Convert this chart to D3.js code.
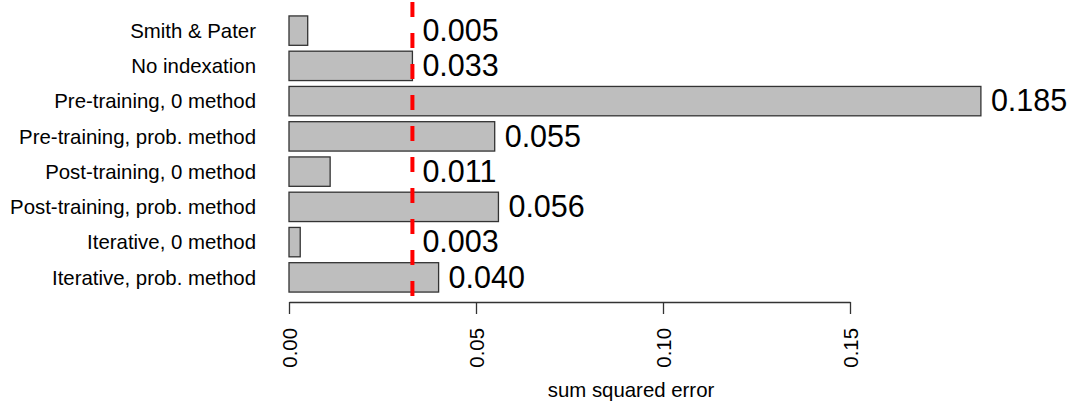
<!DOCTYPE html>
<html>
<head>
<meta charset="utf-8">
<script src="https://cdn.jsdelivr.net/npm/d3@7"></script>
<style>
  body { margin: 0; background: #fff; }
  svg text { font-family: "Liberation Sans", Arial, sans-serif; fill: #000; }
</style>
</head>
<body>
<div id="chart"></div>
<script>
// data, top to bottom as drawn
var methods = ["Smith & Pater", "No indexation", "Pre-training, 0 method", "Pre-training, prob. method",
               "Post-training, 0 method", "Post-training, prob. method", "Iterative, 0 method", "Iterative, prob. method"];
var sse = [0.005, 0.033, 0.185, 0.055, 0.011, 0.056, 0.003, 0.040];
var refLine = 0.033;
var xTicks = [0, 0.05, 0.10, 0.15];
var xTitle = "sum squared error";

var width = 1072, height = 402;

var svg = d3.select("#chart").append("svg")
    .attr("width", width)
    .attr("height", height);

var x = d3.scaleLinear().domain([0, 0.15]).range([289, 850]);
// barplot-like spacing: bar width 1, space 0.2
var y = d3.scaleBand().domain(methods).range([13, 295]).paddingInner(1 - 1 / 1.2).paddingOuter((1 - 1 / 1.2) / 2);

var data = methods.map(function(m, i) { return { name: m, value: sse[i] }; });

// bars
svg.append("g").selectAll("rect")
    .data(data)
    .enter()
    .append("rect")
        .attr("x", x(0))
        .attr("y", function(d) { return y(d.name); })
        .attr("width", function(d) { return x(d.value) - x(0); })
        .attr("height", y.bandwidth())
        .attr("fill", "#bebebe")
        .attr("stroke", "#333")
        .attr("stroke-width", 1.3);

// category labels
svg.append("g").selectAll("text")
    .data(data)
    .enter()
    .append("text")
        .attr("x", 256)
        .attr("y", function(d) { return y(d.name) + y.bandwidth() / 2; })
        .attr("dy", "0.36em")
        .attr("text-anchor", "end")
        .style("font-size", "20.4px")
        .text(function(d) { return d.name; });

// value labels, kept right of the reference line
svg.append("g").selectAll("text")
    .data(data)
    .enter()
    .append("text")
        .attr("x", function(d) { return x(Math.max(d.value, refLine)) + 10; })
        .attr("y", function(d) { return y(d.name) + y.bandwidth() / 2; })
        .attr("dy", "0.34em")
        .style("font-size", "30.5px")
        .text(function(d) { return d3.format(".3f")(d.value); });

// reference line
svg.append("line")
    .attr("x1", x(refLine)).attr("x2", x(refLine))
    .attr("y1", 2).attr("y2", 303)
    .attr("stroke", "#ff0000")
    .attr("stroke-width", 4)
    .attr("stroke-dasharray", "15,16");

// x axis
var axisY = 302;
var ax = svg.append("g")
    .attr("transform", "translate(0," + axisY + ")")
    .call(d3.axisBottom(x).tickValues(xTicks).tickSize(12).tickSizeOuter(0).tickFormat(d3.format(".2f")));
ax.select(".domain").attr("stroke", "#333").attr("stroke-width", 1.3);
ax.selectAll(".tick line").attr("stroke", "#333").attr("stroke-width", 1.3);
ax.selectAll(".tick text")
    .style("font-size", "20.4px")
    .style("font-family", "'Liberation Sans', Arial, sans-serif")
    .attr("fill", "#000")
    .attr("text-anchor", "end")
    .attr("transform", "rotate(-90)")
    .attr("x", -26)
    .attr("y", 0)
    .attr("dy", "0.35em");

svg.append("text")
    .attr("x", 631)
    .attr("y", 397)
    .attr("text-anchor", "middle")
    .style("font-size", "20.4px")
    .text(xTitle);
</script>
</body>
</html>
